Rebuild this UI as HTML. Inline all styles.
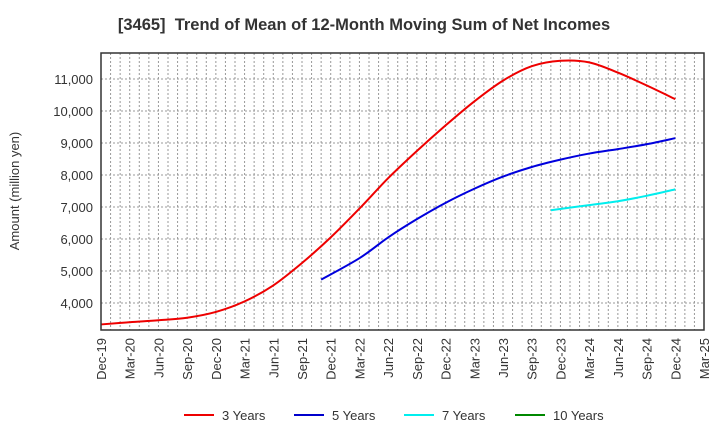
<!DOCTYPE html>
<html><head><meta charset="utf-8"><style>
body{margin:0;background:#fff;}
svg text{font-family:"Liberation Sans",Arial,sans-serif;}
</style></head><body>
<svg id="chart" width="720" height="440">
<text x="364" y="30" text-anchor="middle" font-size="16.5" font-weight="bold" fill="#333" xml:space="preserve">[3465]  Trend of Mean of 12-Month Moving Sum of Net Incomes</text>
<text transform="translate(19,191) rotate(-90)" text-anchor="middle" font-size="13" fill="#333">Amount (million yen)</text>
<g id="grid"></g><g id="series"></g><g id="axes"></g>
<g>
<line x1="184" y1="415" x2="214" y2="415" stroke="#e00" stroke-width="2"/><text x="222" y="420" font-size="13" fill="#333">3 Years</text>
<line x1="294" y1="415" x2="324" y2="415" stroke="#00c" stroke-width="2"/><text x="332" y="420" font-size="13" fill="#333">5 Years</text>
<line x1="404" y1="415" x2="434" y2="415" stroke="#0ee" stroke-width="2"/><text x="442" y="420" font-size="13" fill="#333">7 Years</text>
<line x1="515" y1="415" x2="545" y2="415" stroke="#080" stroke-width="2"/><text x="553" y="420" font-size="13" fill="#333">10 Years</text>
</g>
</svg>
<script>
const xLabels=["Dec-19","Mar-20","Jun-20","Sep-20","Dec-20","Mar-21","Jun-21","Sep-21","Dec-21","Mar-22","Jun-22","Sep-22","Dec-22","Mar-23","Jun-23","Sep-23","Dec-23","Mar-24","Jun-24","Sep-24","Dec-24","Mar-25"];
const yTicks=[4000,5000,6000,7000,8000,9000,10000,11000];
const s3=[3330,3400,3460,3540,3720,4050,4550,5250,6050,6950,7900,8750,9550,10300,10950,11400,11570,11520,11200,10800,10370];
const s5=[4730,5400,6050,6620,7130,7570,7950,8250,8480,8670,8810,8960,9150];
const s7=[6900,7060,7180,7350,7550];
const s5Start=8, s7Start=16;
const L=101,R=704,T=53,B=330;
const X=q=>L+q*(R-L)/21;
const Y=v=>303-(v-4000)*0.032;
const NS="http://www.w3.org/2000/svg";
function mk(t,a,p){const e=document.createElementNS(NS,t);for(const k in a)e.setAttribute(k,a[k]);p.appendChild(e);return e;}
const g=document.getElementById('grid'),ax=document.getElementById('axes'),sg=document.getElementById('series');
for(let m=1;m<63;m++){const x=L+m*(R-L)/63;
const l=mk('line',{x1:x,x2:x,y1:T,y2:B,stroke:'#999','stroke-dasharray':'2,2','stroke-width':1},g);

}
yTicks.forEach(v=>{const y=Y(v);
const l=mk('line',{x1:L,x2:R,y1:y,y2:y,stroke:'#999','stroke-dasharray':'2,2'},g);


const t=mk('text',{x:L-8,y:y+5,'text-anchor':'end','font-size':13,fill:'#333'},ax);t.textContent=v.toLocaleString('en-US');

});
const fr=mk('rect',{x:L,y:T,width:R-L,height:B-T,fill:'none',stroke:'#333','stroke-width':1.5},ax);


xLabels.forEach((s,i)=>{const x=X(i);
const t=mk('text',{transform:`translate(${x+5},${B+8}) rotate(-90)`,'text-anchor':'end','font-size':13,fill:'#333'},ax);t.textContent=s;

});
// series are month-end based; first points of 5y/7y plotted one month before the quarter label
function path(vals,start,shiftFirst){const p=vals.map((v,i)=>[X(start+i)-(i===0&&shiftFirst?(R-L)/63:0),Y(v)]);let d=`M${p[0][0]},${p[0][1]}`;
for(let i=0;i<p.length-1;i++){const p0=p[i-1]||p[i],p1=p[i],p2=p[i+1],p3=p[i+2]||p2;
d+=` C${p1[0]+(p2[0]-p0[0])/6},${p1[1]+(p2[1]-p0[1])/6} ${p2[0]-(p3[0]-p1[0])/6},${p2[1]-(p3[1]-p1[1])/6} ${p2[0]},${p2[1]}`;}return d;}
[[s3,0,'#e00','line-3-years',false],[s5,s5Start,'#00d','line-5-years',true],[s7,s7Start,'#0ee','line-7-years',true]].forEach(([v,s,c,n,sh])=>{
const e=mk('path',{d:path(v,s,sh),fill:'none',stroke:c,'stroke-width':2},sg);

});
</script>
</body></html>
